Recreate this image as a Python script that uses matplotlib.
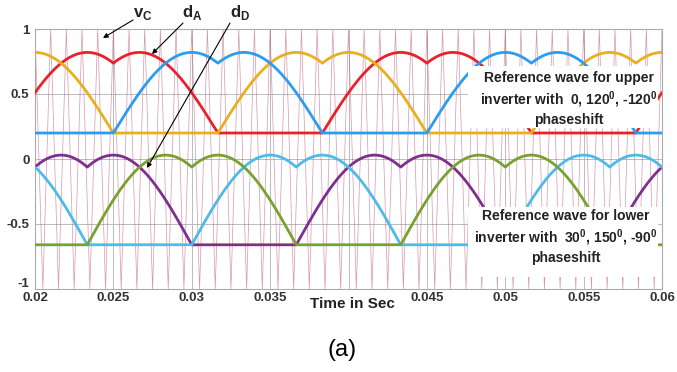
import numpy as np
import matplotlib
matplotlib.use('Agg')
import matplotlib.pyplot as plt
import matplotlib.transforms as mtransforms
from matplotlib.patches import Rectangle

plt.rcParams['font.family'] = 'Liberation Sans'
plt.rcParams['mathtext.fontset'] = 'custom'
plt.rcParams['mathtext.rm'] = 'Liberation Sans:bold'
plt.rcParams['mathtext.bf'] = 'Liberation Sans:bold'

# values
t_start, t_end = 0.02, 0.06
grid_freq = 50            # Hz, reference waves
carrier_freq = 1000       # Hz, triangular carrier vC
upper_phases = [0, 120, -120]      # deg: red (dA), yellow, blue
upper_colors = ['#e8222b', '#e6b020', '#2b9cf0']
upper_base, upper_peak = 0.2, 0.82
lower_phases = [30, 150, -90]      # deg: purple, light blue, olive (dD)
lower_colors = ['#7e2f8e', '#4dbbe8', '#77a232']
lower_base, lower_peak = -0.66, 0.03

xticks = [0.02, 0.025, 0.03, 0.035, 0.04, 0.045, 0.05, 0.055, 0.06]
xticklabels = ['0.02', '0.025', '0.03', '0.035', '', '0.045', '0.05', '0.055', '0.06']
yticks = [-1, -0.5, 0, 0.5, 1]
yticklabels = ['-1', '-0.5', '0', '0.5', '1']


def ref_wave(t, phase, base, peak):
    th = 2 * np.pi * grid_freq * t + np.deg2rad(phase)
    va = np.sin(th)
    vb = np.sin(th - 2 * np.pi / 3)
    vc = np.sin(th + 2 * np.pi / 3)
    low = np.minimum(np.minimum(va, vb), vc)
    return base + (peak - base) / np.sqrt(3) * (va - low)


t = np.linspace(t_start, t_end, 4000)
n_half = int(round((t_end - t_start) * carrier_freq * 2))
t_car = t_start + np.arange(n_half + 1) / (2 * carrier_freq)
v_car = np.where(np.arange(n_half + 1) % 2 == 0, 1.0, -1.0)

fig = plt.figure(figsize=(6.77, 3.72), dpi=100)
ax = fig.add_axes([35 / 677, 1 - 289 / 372, 627 / 677, 260 / 372])


def px(x, y):
    # picture pixel -> data coordinates
    return 0.02 + (x - 35) / 15675.0, 1 - (y - 29) / 130.0


ax.plot(t_car, v_car, color='#b8406a', lw=0.5, alpha=0.55, zorder=1)

for ph, c in zip(upper_phases, upper_colors):
    ax.plot(t, ref_wave(t, ph, upper_base, upper_peak), color=c, lw=2, zorder=3)
for ph, c in zip(lower_phases, lower_colors):
    ax.plot(t, ref_wave(t, ph, lower_base, lower_peak), color=c, lw=2, zorder=3)

ax.set_xlim(t_start, t_end)
ax.set_ylim(-1, 1)
ax.set_xticks(xticks)
ax.set_xticklabels(xticklabels)
ax.set_yticks(yticks)
ax.set_yticklabels(yticklabels)
ax.tick_params(length=0, labelsize=9.5, labelcolor='#333333')
ax.tick_params(axis='x', pad=2)
ax.tick_params(axis='y', pad=4)
for lab in ax.get_xticklabels() + ax.get_yticklabels():
    lab.set_fontweight('bold')
ylabs = ax.get_yticklabels()
ylabs[0].set_transform(ylabs[0].get_transform() +
                       mtransforms.ScaledTranslation(0, 5 / 72, fig.dpi_scale_trans))
ax.grid(True, color='#bbbbbb', lw=0.7)
ax.set_axisbelow(True)
for s in ax.spines.values():
    s.set_color('#aaaaaa')
    s.set_linewidth(0.8)

ax.text(*px(352, 304), 'Time in Sec', ha='center', va='center', fontsize=11,
        fontweight='bold', color='#222222', clip_on=False)

# annotation boxes
for y0, y1 in [(66, 128), (207, 277)]:
    x0, yb = px(468, y1)
    x1, yt = px(658, y0)
    ax.add_patch(Rectangle((x0, yb), x1 - x0, yt - yb, facecolor='white',
                           edgecolor='none', zorder=4))
ax.text(*px(569, 99), 'Reference wave for upper\n'
        r'inverter with  0, 120$^{\mathbf{0}}$, -120$^{\mathbf{0}}$' '\nphaseshift',
        ha='center', va='center', fontsize=10, fontweight='bold', color='#222222',
        linespacing=1.25, zorder=5)
ax.text(*px(566, 237), 'Reference wave for lower\n'
        r'inverter with  30$^{\mathbf{0}}$, 150$^{\mathbf{0}}$, -90$^{\mathbf{0}}$' '\nphaseshift',
        ha='center', va='center', fontsize=10, fontweight='bold', color='#222222',
        linespacing=1.25, zorder=5)

# curve labels with pointers
arrow = dict(arrowstyle='-|>', lw=0.8, color='black', mutation_scale=7, shrinkA=0, shrinkB=0)
for label, tpos, start, end in [
        (r'$\mathbf{v}_{\mathbf{C}}$', (143, 14), (133, 20), (103, 38)),
        (r'$\mathbf{d}_{\mathbf{A}}$', (192, 12), (183, 23), (152, 54)),
        (r'$\mathbf{d}_{\mathbf{D}}$', (240, 12), (230, 23), (147, 168))]:
    ax.text(*px(*tpos), label, ha='center', va='center', fontsize=12, color='#222222', clip_on=False)
    ax.annotate('', xy=px(*end), xytext=px(*start), arrowprops=arrow,
                annotation_clip=False, zorder=6)

fig.text(342 / 677, 1 - 350 / 372, '(a)', ha='center', va='center', fontsize=17)

fig.savefig('out.png', dpi=100)
